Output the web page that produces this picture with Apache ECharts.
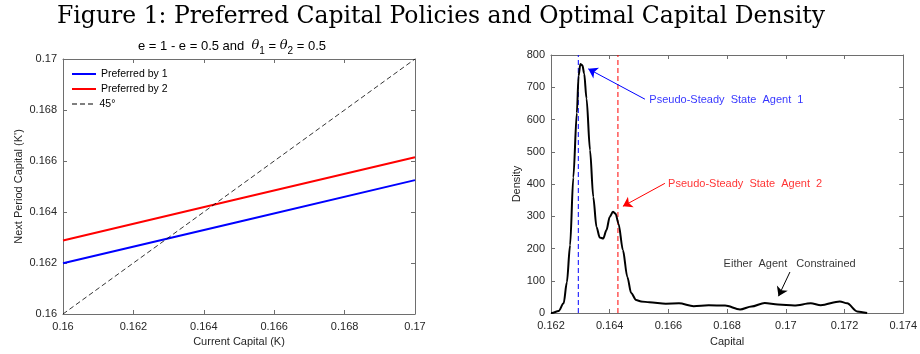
<!DOCTYPE html>
<html><head><meta charset="utf-8">
<script src="https://cdn.jsdelivr.net/npm/echarts@6/dist/echarts.min.js"></script>
<style>html,body{margin:0;padding:0;background:#fff}#c{width:920px;height:354px}</style>
</head><body><div id="c"></div>
<script>
// ---- Left panel data ----
const kCurrent = [0.160, 0.165, 0.170];
const preferredBy1 = [0.16199, 0.16362, 0.16525];
const preferredBy2 = [0.16288, 0.16452, 0.16615];
const line45 = [0.160, 0.165, 0.170];

// ---- Right panel data ----
const capital = [0.1620, 0.16203, 0.16226, 0.16243, 0.16254, 0.16265, 0.16276, 0.16288, 0.16294, 0.16300, 0.16307, 0.16313, 0.16321, 0.16333, 0.16344, 0.16355, 0.16366, 0.16378, 0.16389, 0.16400, 0.16411, 0.16420, 0.16430, 0.16445, 0.16460, 0.16473, 0.16490, 0.16507, 0.16535, 0.16591, 0.16636, 0.16686, 0.16737, 0.16793, 0.16844, 0.16883, 0.16928, 0.16973, 0.17029, 0.17085, 0.17119, 0.17184, 0.17209, 0.17243, 0.17277];
const density = [0, 0, 6, 30, 95, 210, 420, 620, 735, 772, 768, 743, 665, 505, 360, 267, 234, 231, 257, 298, 314, 308, 277, 195, 112, 62, 40, 36, 33, 29, 30, 21, 24, 23, 11, 20, 31, 26, 23, 30, 24, 36, 30, 5, 0];
const pssAgent1 = 0.16293;
const pssAgent2 = 0.16428;
const densityRange = [0, 800];
// annotations: [textX, textY, arrowFromX, arrowFromY, arrowToX, arrowToY]
const annot1 = [0.16535, 660, 0.16520, 663, 0.16327, 757];
const annot2 = [0.16599, 400, 0.16588, 402, 0.16445, 331];
const annot3 = [0.16788, 151, 0.17014, 127, 0.16975, 52];
const annotTexts = ['Pseudo-Steady  State  Agent  1', 'Pseudo-Steady  State  Agent  2', 'Either  Agent   Constrained'];

const zip = (a, b) => a.map((v, i) => [v, b[i]]);
const FONT = '"Liberation Sans", Arial, sans-serif';
const AX = '#6e6e6e';
const TXT = '#262626';

function xAxisPair(gi, min, max, interval, name, gap) {
  return [
    { gridIndex: gi, type: 'value', min, max, interval, position: 'bottom',
      name, nameLocation: 'middle', nameGap: gap,
      nameTextStyle: { fontFamily: FONT, fontSize: 11, color: TXT },
      axisLine: { lineStyle: { color: AX, width: 1 } },
      axisTick: { inside: true, length: 4, lineStyle: { color: AX } },
      axisLabel: { fontFamily: FONT, fontSize: 11, color: TXT, margin: 7 },
      splitLine: { show: false } },
    { gridIndex: gi, type: 'value', min, max, interval, position: 'top',
      axisLine: { onZero: false, lineStyle: { color: AX, width: 1 } },
      axisTick: { inside: true, length: 4, lineStyle: { color: AX } },
      axisLabel: { show: false }, splitLine: { show: false } }
  ];
}
function yAxisPair(gi, min, max, interval, name, gap) {
  return [
    { gridIndex: gi, type: 'value', min, max, interval, position: 'left',
      name, nameLocation: 'middle', nameGap: gap, nameRotate: 90,
      nameTextStyle: { fontFamily: FONT, fontSize: 11, color: TXT },
      axisLine: { show: true, onZero: false, lineStyle: { color: AX, width: 1 } },
      axisTick: { show: true, inside: true, length: 4, lineStyle: { color: AX } },
      axisLabel: { fontFamily: FONT, fontSize: 11, color: TXT, margin: 6 },
      splitLine: { show: false } },
    { gridIndex: gi, type: 'value', min, max, interval, position: 'right',
      axisLine: { show: true, onZero: false, lineStyle: { color: AX, width: 1 } },
      axisTick: { show: true, inside: true, length: 4, lineStyle: { color: AX } },
      axisLabel: { show: false }, splitLine: { show: false } }
  ];
}

function annotSeries(a, text, color) {
  return [
    { type: 'scatter', xAxisIndex: 2, yAxisIndex: 2, symbolSize: 0, silent: true,
      data: [[a[0], a[1]]],
      label: { show: true, position: 'right', distance: 0, formatter: text,
        fontFamily: FONT, fontSize: 11, color } },
    { type: 'line', xAxisIndex: 2, yAxisIndex: 2, symbol: 'none', silent: true, data: [],
      markLine: { silent: true, animation: false, label: { show: false },
        lineStyle: { color, width: 1, type: 'solid' },
        symbolSize: 9,
        data: [[ { coord: [a[2], a[3]], symbol: 'none' }, { coord: [a[4], a[5]], symbol: 'arrow' } ]] } }
  ];
}

const SOLID_ICON = 'path://M0,0H24V2H0Z';
const DASH_ICON = 'path://M0,0h5v1h-5zM8,0h5v1h-5zM16,0h5v1h-5z';

const chart = echarts.init(document.getElementById('c'), null, { renderer: 'canvas' });
chart.setOption({
  animation: false,
  backgroundColor: '#fff',
  title: [
    { text: 'Figure 1: Preferred Capital Policies and Optimal Capital Density',
      left: 436, top: 0, textAlign: 'center',
      textStyle: { fontFamily: '"DejaVu Serif", serif', fontSize: 23.5, fontWeight: 'normal', color: '#000' } },
    { text: 'e = 1 - e = 0.5 and  {th|θ}{sub|1} = {th|θ}{sub|2} = 0.5',
      left: 227, top: 31, textAlign: 'center',
      textStyle: { fontFamily: FONT, fontSize: 13, fontWeight: 'normal', color: '#000',
        rich: {
          th: { fontFamily: '"DejaVu Serif", serif', fontStyle: 'italic', fontSize: 13, color: '#000' },
          sub: { fontFamily: FONT, fontSize: 10, color: '#000', padding: [10, 0, 0, 0] }
        } } }
  ],
  legend: [
    { left: 72, top: 68, padding: 0, orient: 'vertical', itemWidth: 24, itemHeight: 2, itemGap: 3,
      icon: SOLID_ICON,
      textStyle: { fontFamily: FONT, fontSize: 10.5, color: '#000', lineHeight: 12 },
      data: ['Preferred by 1', 'Preferred by 2'] },
    { left: 72, top: 98, padding: 0, orient: 'vertical', itemWidth: 24, itemHeight: 1, itemGap: 3,
      icon: DASH_ICON,
      textStyle: { fontFamily: FONT, fontSize: 10.5, color: '#000', lineHeight: 12 },
      data: ['45°'] }
  ],
  grid: [
    { left: 63, top: 59, width: 352, height: 255 },
    { left: 551, top: 55, width: 356, height: 258 }
  ],
  xAxis: [
    ...xAxisPair(0, 0.16, 0.17, 0.002, 'Current Capital (K)', 22),
    ...xAxisPair(1, 0.162, 0.174, 0.002, 'Capital', 23)
  ],
  yAxis: [
    ...yAxisPair(0, 0.16, 0.17, 0.002, "Next Period Capital (K')", 39),
    ...yAxisPair(1, densityRange[0], densityRange[1], 100, 'Density', 28)
  ],
  series: [
    { name: 'Preferred by 1', type: 'line', xAxisIndex: 0, yAxisIndex: 0, symbol: 'none',
      lineStyle: { color: '#0000ff', width: 2 }, itemStyle: { color: '#0000ff' },
      data: zip(kCurrent, preferredBy1) },
    { name: 'Preferred by 2', type: 'line', xAxisIndex: 0, yAxisIndex: 0, symbol: 'none',
      lineStyle: { color: '#ff0000', width: 2 }, itemStyle: { color: '#ff0000' },
      data: zip(kCurrent, preferredBy2) },
    { name: '45°', type: 'line', xAxisIndex: 0, yAxisIndex: 0, symbol: 'none',
      lineStyle: { color: '#000', width: 0.8, type: [5, 3] }, itemStyle: { color: '#000' },
      data: zip(kCurrent, line45) },
    { type: 'line', xAxisIndex: 2, yAxisIndex: 2, symbol: 'none', silent: true,
      lineStyle: { color: '#0000ff', width: 1, type: [5, 3] },
      data: [[pssAgent1, densityRange[0]], [pssAgent1, densityRange[1]]] },
    { type: 'line', xAxisIndex: 2, yAxisIndex: 2, symbol: 'none', silent: true,
      lineStyle: { color: '#ff0000', width: 1, type: [5, 3] },
      data: [[pssAgent2, densityRange[0]], [pssAgent2, densityRange[1]]] },
    { type: 'line', xAxisIndex: 2, yAxisIndex: 2, symbol: 'none', smooth: 0.3, smoothMonotone: 'x',
      lineStyle: { color: '#000', width: 2 },
      data: zip(capital, density) },
    ...annotSeries(annot1, annotTexts[0], '#0000ff'),
    ...annotSeries(annot2, annotTexts[1], '#ff0000'),
    ...annotSeries(annot3, annotTexts[2], '#000')
  ]
});
</script></body></html>
